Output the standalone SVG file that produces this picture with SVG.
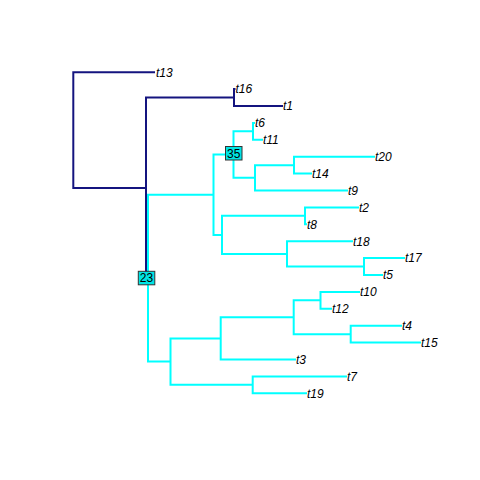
<svg xmlns="http://www.w3.org/2000/svg" width="480" height="480" viewBox="0 0 480 480">
<style>
.d{stroke:#14147f;stroke-width:2;fill:none;stroke-linecap:square}
.c{stroke:#00ffff;stroke-width:2;fill:none;stroke-linecap:square}
.lab{font-family:"Liberation Sans",Arial,sans-serif;font-size:12px;font-style:italic;fill:#000}
.nl{font-family:"Liberation Sans",Arial,sans-serif;font-size:12px;fill:#000;text-anchor:middle}
.box{fill:#00e5e5;stroke:#333;stroke-width:1}
</style>
<rect width="480" height="480" fill="#fff"/>
<g id="connectors">
<path class="d" d="M73.3,72.2V187.9 M73.3,72.2H154 M73.3,187.9H146 M146,97.5V278.2 M146,97.5H234 M234,89.1V106 M234,89.1H234.5 M234,106H282"/>
<path class="c" d="M148,194.75V361.6 M148,194.75H213.5 M148,361.6H170.5
M213.5,154.6V234.9 M213.5,154.6H233.5 M213.5,234.9H222
M233.5,131.35V177.8 M233.5,131.35H253 M233.5,177.8H255
M253,122.9V139.8 M253,122.9H254 M253,139.8H262
M255,165.15V190.5 M255,165.15H294 M255,190.5H347
M294,156.7V173.6 M294,156.7H374 M294,173.6H311
M222,215.85V253.9 M222,215.85H305 M222,253.9H287
M305,207.4V224.3 M305,207.4H358 M305,224.3H306
M287,241.2V266.55 M287,241.2H352 M287,266.55H364
M364,258.1V275 M364,258.1H404 M364,275H382
M170.5,338.4V384.85 M170.5,338.4H220.7 M170.5,384.85H252.7
M220.7,317.25V359.5 M220.7,317.25H293.7 M220.7,359.5H295
M293.7,300.35V334.15 M293.7,300.35H320.5 M293.7,334.15H350.7
M320.5,291.9V308.8 M320.5,291.9H359 M320.5,308.8H331
M350.7,325.7V342.6 M350.7,325.7H401 M350.7,342.6H420
M252.7,376.4V393.3 M252.7,376.4H346 M252.7,393.3H306"/>
</g>
<g id="tips">
<text class="lab" x="156" y="76.5">t13</text>
<text class="lab" x="235.5" y="93.4">t16</text>
<text class="lab" x="283" y="110.3">t1</text>
<text class="lab" x="255" y="127.2">t6</text>
<text class="lab" x="263" y="144.1">t11</text>
<text class="lab" x="375" y="161">t20</text>
<text class="lab" x="312" y="177.9">t14</text>
<text class="lab" x="348" y="194.8">t9</text>
<text class="lab" x="359" y="211.7">t2</text>
<text class="lab" x="307" y="228.6">t8</text>
<text class="lab" x="353" y="245.5">t18</text>
<text class="lab" x="405" y="262.4">t17</text>
<text class="lab" x="383" y="279.3">t5</text>
<text class="lab" x="360" y="296.2">t10</text>
<text class="lab" x="332" y="313.1">t12</text>
<text class="lab" x="402" y="330">t4</text>
<text class="lab" x="421" y="346.9">t15</text>
<text class="lab" x="296" y="363.8">t3</text>
<text class="lab" x="347" y="380.7">t7</text>
<text class="lab" x="307" y="397.6">t19</text>
</g>
<g id="node23">
<rect class="box" x="138.3" y="271.3" width="16.5" height="13.5"/>
<text class="nl" x="146.5" y="282.3">23</text>
</g>
<g id="node35">
<rect class="box" x="225.5" y="146.5" width="16.5" height="13.5"/>
<text class="nl" x="233.7" y="157.5">35</text>
</g>
</svg>
